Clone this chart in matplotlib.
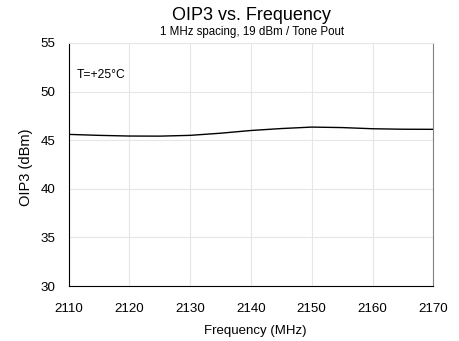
import matplotlib.pyplot as plt

plt.rcParams['font.family'] = ['Liberation Sans', 'DejaVu Sans']

# DATA
freq_mhz = [2110, 2115, 2120, 2125, 2130, 2135, 2140, 2145, 2150, 2155, 2160, 2165, 2170]
oip3_dbm = [45.6, 45.5, 45.43, 45.42, 45.5, 45.72, 46.0, 46.2, 46.35, 46.3, 46.18, 46.13, 46.12]
x_ticks = [2110, 2120, 2130, 2140, 2150, 2160, 2170]
y_ticks = [30, 35, 40, 45, 50, 55]

fig = plt.figure(figsize=(4.6, 3.41), dpi=100)
ax = fig.add_axes([0.149, 0.161, 0.793, 0.713])

ax.plot(freq_mhz, oip3_dbm, color='black', linewidth=1.0)

ax.set_xlim(2110, 2170)
ax.set_ylim(30, 55)
ax.set_xticks(x_ticks)
ax.set_yticks(y_ticks)
ax.grid(True, color='#e6e6e6', linewidth=0.8)
ax.tick_params(length=0, labelsize=9.6)
ax.tick_params(axis='x', pad=12.3)
ax.tick_params(axis='y', pad=9.7)

# spines: left/bottom black, right grey, top light
ax.spines['left'].set_color('black')
ax.spines['bottom'].set_color('black')
ax.spines['right'].set_color('#808080')
ax.spines['top'].set_color('#e6e6e6')

ax.set_xlabel('Frequency (MHz)', fontsize=9.5)
ax.set_ylabel('OIP3 (dBm)', fontsize=10.5)
ax.xaxis.set_label_coords(0.512, -0.16)
ax.yaxis.set_label_coords(-0.097, 0.488)
ax.text(0.023, 0.867, 'T=+25°C', transform=ax.transAxes, fontsize=8.7, va='center')

fig.text(0.547, 0.955, 'OIP3 vs. Frequency', ha='center', va='center', fontsize=13)
fig.text(0.547, 0.906, '1 MHz spacing, 19 dBm / Tone Pout', ha='center', va='center', fontsize=8.3)

fig.savefig('out.png', dpi=100)
